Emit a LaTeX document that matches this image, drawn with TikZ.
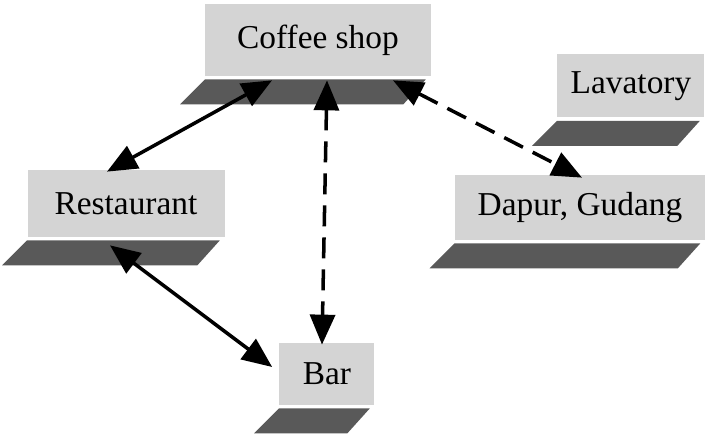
\documentclass[tikz,border=0pt]{standalone}
\usepackage{fontspec}
\setmainfont{Liberation Serif}
\usetikzlibrary{arrows.meta,positioning}

\begin{document}
\begin{tikzpicture}[
        room/.style={fill=black!17, font=\fontsize{19}{22}\selectfont},
        floor/.style={fill=black!65},
        link/.style={{Triangle[length=0.6cm,width=0.5cm]}-{Triangle[length=0.6cm,width=0.5cm]}, line width=2pt},
        maybe/.style={link, dash pattern=on 0.42cm off 0.22cm}]
                            \useasboundingbox (0,0) rectangle (14.1,8.78);

                            \node[room, minimum width=4.5cm,  minimum height=1.44cm] (coffee)     at (6.36,7.98) {Coffee shop};
                            \node[room, minimum width=2.94cm, minimum height=1.26cm] (lavatory)   at (12.62,7.06) {Lavatory};
                            \node[room, minimum width=3.94cm, minimum height=1.34cm] (restaurant) at (2.52,4.71) {Restaurant};
                            \node[room, minimum width=5cm,    minimum height=1.3cm]  (dapur)      at (11.6,4.63) {Dapur, Gudang};
                            \node[room, minimum width=1.9cm,  minimum height=1.24cm] (bar)        at (6.54,1.3) {Bar};

                            % floors under the rooms
                            \foreach \n in {coffee,lavatory,restaurant,dapur,bar}
                                \fill[floor] ([yshift=-0.06cm]\n.south west) -- ([xshift=-0.1cm,yshift=-0.06cm]\n.south east)
                                    -- ([xshift=-0.55cm,yshift=-0.56cm]\n.south east) -- ([xshift=-0.5cm,yshift=-0.56cm]\n.south west) -- cycle;

                            \path[link]
                                ([xshift=-0.92cm,yshift=-0.08cm]coffee.south)    edge ([xshift=-0.38cm,yshift=-0.04cm]restaurant.north)
                                ([xshift=-0.32cm,yshift=-0.16cm]restaurant.south) edge ([xshift=-0.14cm,yshift=0.14cm]bar.west);
                            \path[maybe]
                                ([xshift=0.18cm,yshift=-0.08cm]coffee.south)     edge ([xshift=-0.1cm,yshift=-0.04cm]bar.north)
                                ([xshift=1.5cm,yshift=-0.08cm]coffee.south)      edge ([xshift=0.04cm,yshift=-0.06cm]dapur.north);
                        \end{tikzpicture}
\end{document}
